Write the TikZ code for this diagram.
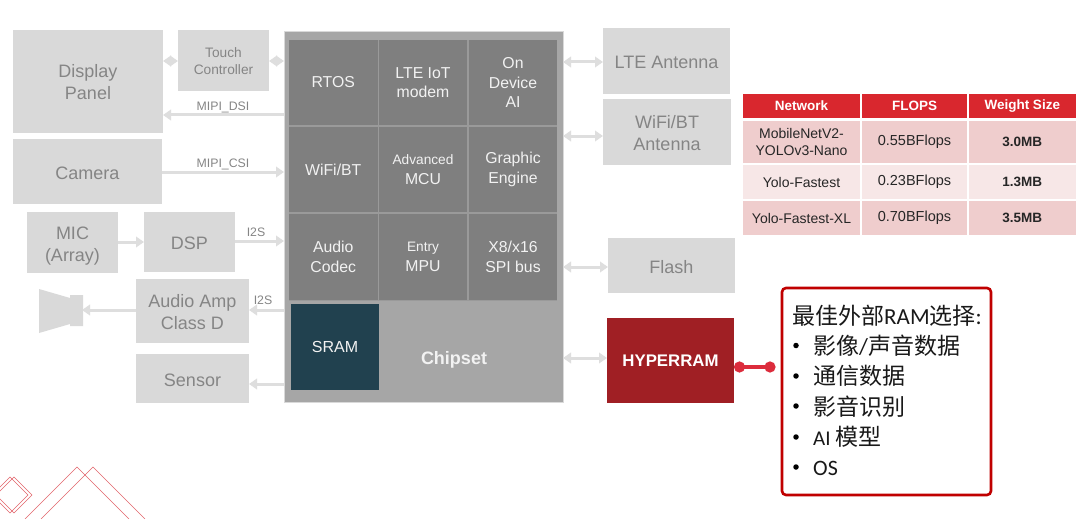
\documentclass[tikz,border=0pt]{standalone}
\usepackage{fontspec}
\setmainfont{Liberation Sans}
\newfontfamily\cjkf{Noto Sans CJK SC}
\newfontfamily\latf{Carlito}
\usetikzlibrary{arrows.meta,calc}
\definecolor{lightbox}{HTML}{D9D9D9}
\definecolor{boxtext}{HTML}{858585}
\definecolor{chipfill}{HTML}{A6A6A6}
\definecolor{cellfill}{HTML}{7F7F7F}
\definecolor{cellline}{HTML}{9A9A9A}
\definecolor{celltext}{HTML}{F2F2F2}
\definecolor{sramfill}{HTML}{21414F}
\definecolor{hyperfill}{HTML}{A01F24}
\definecolor{thead}{HTML}{D9272E}
\definecolor{rowdark}{HTML}{EFCDCD}
\definecolor{rowlight}{HTML}{F7E7E7}
\definecolor{arrowgrey}{HTML}{DEDEDE}
\definecolor{calloutred}{HTML}{C00000}
\definecolor{dotred}{HTML}{DC2C3C}
\definecolor{decor}{HTML}{E2636B}
\newcommand{\rectnode}[7]{\node[#1,anchor=north west,minimum width={#5-#3},minimum height={#6-#4}] (#2) at (#3,#4) {#7};}
\tikzset{
  x=1pt,y=-1pt,
  base/.style={inner sep=0pt,outer sep=0pt,align=center},
  lbox/.style={base,fill=lightbox,text=boxtext},
  ltext/.style={inner sep=0pt,outer sep=0pt,align=center,text=boxtext,font=\fontsize{18}{22}\selectfont},
  cell/.style={base,fill=cellfill,text=celltext,font=\fontsize{15.8}{19.5}\selectfont},
  thcell/.style={base,fill=thead,text=white,font=\bfseries\fontsize{13.5}{16}\selectfont},
  tdark/.style={base,fill=rowdark,text=black!85,font=\fontsize{14}{17}\selectfont},
  tlight/.style={base,fill=rowlight,text=black!85,font=\fontsize{14}{17}\selectfont},
  conn/.style={draw=arrowgrey,line width=3pt,-{Triangle[length=8pt,width=10.5pt]}},
  bconn/.style={draw=arrowgrey,line width=3pt,{Triangle[length=8pt,width=10.5pt]}-{Triangle[length=8pt,width=10.5pt]}},
  bus/.style={text=boxtext,font=\fontsize{12.3}{14}\selectfont,inner sep=0pt},
  calltext/.style={anchor=west,inner sep=0pt,font=\cjkf\fontsize{23}{28}\selectfont,text=black!90},
  bullet/.style={circle,fill=black,inner sep=0pt,minimum size=5.5pt},
  decorline/.style={draw=decor,line width=.7pt},
}
\begin{document}
\begin{tikzpicture}
\useasboundingbox (0,0) rectangle (1080,519);
\fill[white] (0,0) rectangle (1080,519);

% left side
\rectnode{lbox}{display}{13}{30}{163}{133}{}
\node[ltext,yshift=-1pt] (displayt) at (display.center) {Display\\Panel};
\rectnode{lbox}{touch}{178}{30}{269}{91}{}
\node[ltext,font=\fontsize{13.7}{17}\selectfont,yshift=-.6pt] (toucht) at (touch.center) {Touch\\Controller};
\rectnode{lbox}{camera}{13}{139}{162}{204}{}
\node[ltext,yshift=-1.5pt] (camerat) at (camera.center) {Camera};
\rectnode{lbox}{mic}{27}{212}{118}{273}{}
\node[ltext,yshift=-3.5pt] (mict) at (mic.center) {MIC\\(Array)};
\rectnode{lbox}{dsp}{144}{212}{235}{272}{}
\node[ltext,yshift=-1.2pt] (dspt) at (dsp.center) {DSP};
\rectnode{lbox}{amp}{136}{279}{249}{343}{}
\node[ltext,yshift=-1.5pt] (ampt) at (amp.center) {Audio Amp\\Class D};
\rectnode{lbox}{sensor}{136}{354}{249}{403}{}
\node[ltext,yshift=-1.7pt] (sensort) at (sensor.center) {Sensor};

% speaker
\fill[lightbox] (39,289) -- (70,298) -- (70,295) -- (83,295) -- (83,326) -- (70,326) -- (70,324) -- (39,333) -- cycle;
\coordinate (spk) at (82,310);

% chipset
\rectnode{base,fill=chipfill,draw=lightbox,line width=.8pt}{chip}{284}{31}{563}{402}{}
\node[text=celltext,font=\bfseries\fontsize{18}{22}\selectfont,inner sep=0pt] (chiplabel) at (454,360) {Chipset};
\fill[cellline] (289,40) rectangle (557,301);
\rectnode{cell}{rtos}{289}{40}{377.5}{125}{RTOS}
\rectnode{cell}{lte}{379}{40}{467}{125}{LTE IoT\\modem}
\rectnode{cell}{ai}{469}{40}{557}{125}{On\\Device\\AI}
\rectnode{cell}{wifi}{289}{127}{377.5}{212}{WiFi/BT}
\rectnode{cell}{mcu}{379}{127}{467}{212}{{\fontsize{13.7}{17}\selectfont Advanced}\\MCU}
\rectnode{cell}{gfx}{469}{127}{557}{212}{Graphic\\Engine}
\rectnode{cell}{codec}{289}{214}{377.5}{300}{Audio\\Codec}
\rectnode{cell}{mpu}{379}{214}{467}{300}{{\fontsize{13.7}{17}\selectfont Entry}\\MPU}
\rectnode{cell}{spi}{469}{214}{557}{300}{X8/x16\\SPI bus}
\rectnode{base,fill=sramfill,text=celltext,font=\fontsize{16}{19}\selectfont}{sram}{291}{304}{379}{390}{SRAM}

% right side
\rectnode{lbox}{lteant}{603}{28}{730}{94}{}
\node[ltext,yshift=-1.2pt] (lteantt) at (lteant.center) {LTE Antenna};
\rectnode{lbox}{wifiant}{603}{99}{731}{165}{}
\node[ltext,yshift=-1pt] (wifiantt) at (wifiant.center) {WiFi/BT\\Antenna};
\rectnode{lbox}{flash}{608}{238}{735}{293}{}
\node[ltext,yshift=-1.7pt] (flasht) at (flash.center) {Flash};
\rectnode{base,fill=hyperfill,text=white,font=\bfseries\fontsize{16.8}{19}\selectfont}{hyper}{607}{318}{734}{403}{HYPERRAM}

% connectors
\draw[bconn] (display.east |- 0,61) -- (touch.west |- 0,61);
\draw[bconn] (touch.east |- 0,61) -- (chip.west |- 0,61);
\draw[conn] (chip.west |- 0,115) -- (display.east |- 0,115);
\draw[conn] (camera.east |- 0,172) -- (chip.west |- 0,172);
\draw[conn] (mic.east |- 0,242) -- (dsp.west |- 0,242);
\draw[conn] (dsp.east |- 0,241) -- (chip.west |- 0,241);
\draw[conn] (chip.west |- 0,310) -- (amp.east |- 0,310);
\draw[conn] (amp.west |- 0,310) -- (spk);
\draw[conn] (chip.west |- 0,384) -- (sensor.east |- 0,384);
\draw[bconn] (chip.east |- 0,62) -- (lteant.west |- 0,62);
\draw[bconn] (chip.east |- 0,136) -- (wifiant.west |- 0,136);
\draw[bconn] (chip.east |- 0,267) -- (flash.west |- 0,267);
\draw[bconn] (chip.east |- 0,358) -- (hyper.west |- 0,358);

\node[bus] (dsilabel) at (223,107) {MIPI\_DSI};
\node[bus] (csilabel) at (223,164) {MIPI\_CSI};
\node[bus] (i2sa) at (256,232) {I2S};
\node[bus] (i2sb) at (263,300) {I2S};

% table
\rectnode{thcell}{th1}{743}{94}{860}{118}{Network}
\rectnode{thcell}{th2}{862}{94}{967}{118}{FLOPS}
\rectnode{thcell}{th3}{968.5}{94}{1076}{118}{Weight Size}
\rectnode{tdark}{a1}{743}{121}{860}{163}{MobileNetV2-\\YOLOv3-Nano}
\rectnode{tdark}{a2}{862}{121}{967}{163}{\fontsize{14.5}{17}\selectfont 0.55BFlops}
\rectnode{tdark,font=\bfseries\fontsize{13.5}{17}\selectfont}{a3}{968.5}{121}{1076}{163}{3.0MB}
\rectnode{tlight}{b1}{743}{165}{860}{199}{Yolo-Fastest}
\rectnode{tlight}{b2}{862}{165}{967}{199}{\fontsize{14.5}{17}\selectfont 0.23BFlops}
\rectnode{tlight,font=\bfseries\fontsize{13.5}{17}\selectfont}{b3}{968.5}{165}{1076}{199}{1.3MB}
\rectnode{tdark}{c1}{743}{201}{860}{235}{Yolo-Fastest-XL}
\rectnode{tdark}{c2}{862}{201}{967}{235}{\fontsize{14.5}{17}\selectfont 0.70BFlops}
\rectnode{tdark,font=\bfseries\fontsize{13.5}{17}\selectfont}{c3}{968.5}{201}{1076}{235}{3.5MB}

% callout
\rectnode{base,draw=calloutred,line width=2.6pt,rounded corners=4pt,fill=white}{callout}{782}{288}{991}{495}{}
\coordinate (calloutdot) at (775.5,367);
\draw[dotred,line width=3.2pt,{Circle[length=11pt,width=11pt]}-{Circle[length=11pt,width=11pt]}] (hyper.east |- calloutdot) -- (calloutdot);
\node[calltext] (t0) at (792,316) {最佳外部{\latf\fontsize{23}{28}\selectfont RAM}选择{\latf :}};
\node[calltext] (t1) at (813,346) {影像{\latf /}声音数据};
\node[calltext] (t2) at (813,376) {通信数据};
\node[calltext] (t3) at (813,407) {影音识别};
\node[calltext] (t4) at (813,437) {{\latf\fontsize{21}{28}\selectfont AI} 模型};
\node[calltext] (t5) at (813,468) {{\latf\fontsize{22}{28}\selectfont OS}};
\node[bullet] (d1) at (796,345.5) {};
\node[bullet] (d2) at (796,376) {};
\node[bullet] (d3) at (796,406) {};
\node[bullet] (d4) at (796,437) {};
\node[bullet] (d5) at (796,467) {};

% corner decoration
\draw[decorline] (25,519) -- (77,467) -- (129,519);
\draw[decorline] (41,519) -- (93,467) -- (145,519);
\draw[decorline] (10,477) -- (28,495) -- (10,513) -- (-8,495) -- cycle;
\draw[decorline] (14,477) -- (32,495) -- (14,513) -- (-4,495) -- cycle;
\end{tikzpicture}
\end{document}
